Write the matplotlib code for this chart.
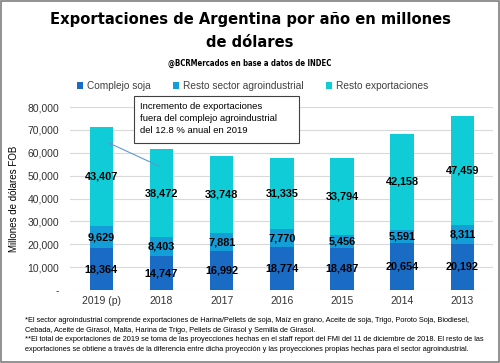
import numpy as np
import matplotlib.pyplot as plt
from matplotlib import font_manager as fm
from matplotlib.patches import Rectangle
from matplotlib.ticker import FuncFormatter

years = ["2019 (p)", "2018", "2017", "2016", "2015", "2014", "2013"]
soja = [18364, 14747, 16992, 18774, 18487, 20654, 20192]
resto_agro = [9629, 8403, 7881, 7770, 5456, 5591, 8311]
resto_expo = [43407, 38472, 33748, 31335, 33794, 42158, 47459]

series_names = ["Complejo soja", "Resto sector agroindustrial", "Resto exportaciones"]
colors = ["#1A6BC4", "#149ED8", "#0FCCD6"]

# fuente angosta para el titulo si existe
narrow = [f for f in fm.fontManager.ttflist
          if ("Narrow" in f.name or f.stretch in ("condensed", "semi-condensed", "extra-condensed"))
          and f.weight in ("bold", 700)]
title_font = dict(family=narrow[0].name, stretch=narrow[0].stretch) if narrow else dict(family="Liberation Sans")
plt.rcParams["font.family"] = ["Liberation Sans", "DejaVu Sans"]

fig = plt.figure(figsize=(5.0, 3.63), dpi=100)
ax = fig.add_axes([0.14, 0.201, 0.845, 0.504])

x = np.arange(len(years))
bottom = np.zeros(len(years))
for vals, col, name in zip([soja, resto_agro, resto_expo], colors, series_names):
    vals = np.array(vals)
    ax.bar(x, vals, width=0.39, bottom=bottom, color=col, label=name, zorder=2)
    for xi, b, v in zip(x, bottom, vals):
        ax.text(xi, b + v / 2, f"{v:,}", ha="center", va="center",
                fontsize=7.8, fontweight="bold", color="black", zorder=3)
    bottom += vals

ax.set_xlim(-0.52, 6.5)
ax.set_ylim(0, 80000)
ax.set_yticks(np.arange(0, 80001, 10000))
ax.yaxis.set_major_formatter(FuncFormatter(lambda v, p: "-" if v == 0 else f"{int(v):,}"))
ax.grid(axis="y", color="#d9d9d9", linewidth=0.8, zorder=0)
ax.set_xticks(x)
ax.set_xticklabels(years)
ax.tick_params(axis="both", length=0, labelsize=7.5, colors="#333333")
ax.tick_params(axis="x", pad=4)
ax.tick_params(axis="y", pad=8)
for s in ax.spines.values():
    s.set_visible(False)
ax.set_ylabel("Millones de dólares FOB", fontsize=7, color="black", labelpad=6)

# titulo
fig.text(0.5, 0.945, "Exportaciones de Argentina por año en millones", ha="center", va="center",
         fontsize=11.8, fontweight="bold", **title_font)
fig.text(0.5, 0.882, "de dólares", ha="center", va="center",
         fontsize=11.8, fontweight="bold", **title_font)
fig.text(0.5, 0.826, "@BCRMercados en base a datos de INDEC", ha="center", va="center",
         fontsize=5.6, fontweight="bold", **title_font)

fig.legend(loc="center", bbox_to_anchor=(0.505, 0.763), ncol=3, frameon=False,
           fontsize=7.3, handlelength=0.6, handleheight=0.6, columnspacing=2.2,
           handletextpad=0.4, labelcolor="#404040")

# recuadro y flecha
ax.annotate("", xy=(0.07, 65000), xytext=(1.0, 53700),
            arrowprops=dict(arrowstyle="-|>", color="#5B9BD5", lw=0.8, mutation_scale=6))
ax.add_patch(Rectangle((0.55, 64200), 2.74, 20500, facecolor="white", edgecolor="#404040",
                       linewidth=0.8, clip_on=False, zorder=5))
ax.text(0.64, 74900, "Incremento de exportaciones\nfuera del complejo agroindustrial\ndel 12.8 % anual en 2019",
        ha="left", va="center", fontsize=6.8, color="black", linespacing=1.45, zorder=6)

notes = ("*El sector agroindustrial comprende exportaciones de Harina/Pellets de soja, Maíz en grano, Aceite de soja, Trigo, Poroto Soja, Biodiesel,\n"
         "Cebada, Aceite de Girasol, Malta, Harina de Trigo, Pellets de Girasol y Semilla de Girasol.\n"
         "**El total de exportaciones de 2019 se toma de las proyecciones hechas en el staff report del FMI del 11 de diciembre de 2018. El resto de las\n"
         "exportaciones se obtiene a través de la diferencia entre dicha proyección y las proyecciones propias hechas para el sector agroindustrial.")
fig.text(0.05, 0.077, notes, ha="left", va="center", fontsize=5.3, linespacing=1.5, color="black")

fig.patches.append(Rectangle((0.002, 0.003), 0.995, 0.994, transform=fig.transFigure,
                             fill=False, edgecolor="#7f7f7f", linewidth=1.2))

fig.savefig("out.png", dpi=100)
